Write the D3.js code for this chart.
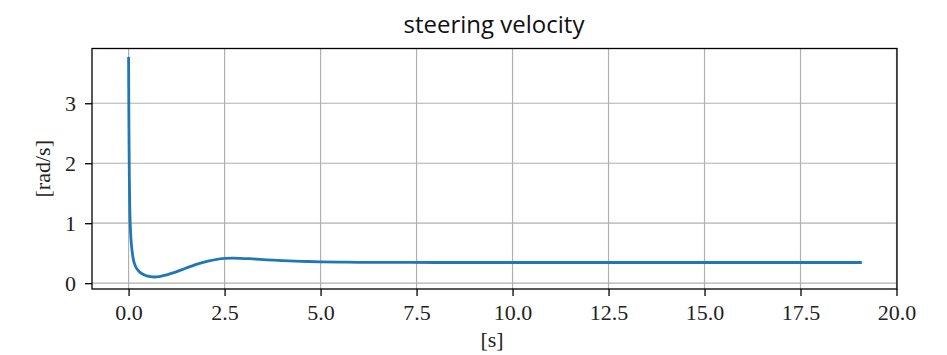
<!DOCTYPE html>
<html>
<head>
<meta charset="utf-8">
<script src="https://cdn.jsdelivr.net/npm/d3@7"></script>
<style>
  html, body { margin: 0; padding: 0; background: #fff; }
  svg { display: block; }
</style>
</head>
<body>
<svg id="chart" width="947" height="355"></svg>
<script>
// Steering velocity response over time
const time = [0, 0.005, 0.01, 0.02, 0.03, 0.04, 0.06, 0.08, 0.1, 0.12, 0.15, 0.2, 0.29, 0.4, 0.5, 0.63, 0.8, 1.0, 1.2, 1.41, 1.6, 1.85, 2.1, 2.3, 2.5, 2.7, 2.9, 3.15, 3.6, 4.0, 4.5, 5.0, 5.5, 6.0, 7.0, 8.0, 10.0, 12.0, 14.0, 16.0, 18.0, 19.06];
const velocity = [3.75, 3.05, 2.5, 1.75, 1.3, 1.03, 0.76, 0.6, 0.49, 0.41, 0.33, 0.255, 0.185, 0.14, 0.118, 0.104, 0.11, 0.14, 0.18, 0.23, 0.275, 0.33, 0.372, 0.398, 0.412, 0.417, 0.415, 0.408, 0.39, 0.377, 0.365, 0.356, 0.351, 0.348, 0.346, 0.345, 0.345, 0.345, 0.345, 0.345, 0.345, 0.345];
const xTicks = [0, 2.5, 5, 7.5, 10, 12.5, 15, 17.5, 20];
const yTicks = [0, 1, 2, 3];

const svg = d3.select("#chart");
const plotLeft = 92, plotRight = 897, plotTop = 48.5, plotBottom = 289;

const x = d3.scaleLinear().domain([-0.953, 20.013]).range([plotLeft, plotRight]);
const y = d3.scaleLinear().domain([-0.097, 3.913]).range([plotBottom, plotTop]);

const serif = "'Liberation Serif', 'DejaVu Serif', serif";

// grid
const grid = svg.append("g").attr("stroke", "#b0b0b0").attr("stroke-width", 1.2);
grid.selectAll("line.gx").data(xTicks).join("line")
  .attr("x1", d => x(d)).attr("x2", d => x(d)).attr("y1", plotTop).attr("y2", plotBottom);
grid.selectAll("line.gy").data(yTicks).join("line")
  .attr("x1", plotLeft).attr("x2", plotRight).attr("y1", d => y(d)).attr("y2", d => y(d));

// data line
const line = d3.line().x((d, i) => x(time[i])).y(d => y(d)).curve(d3.curveCatmullRom.alpha(0.5));
svg.append("path")
  .datum(velocity)
  .attr("fill", "none")
  .attr("stroke", "#1f77b4")
  .attr("stroke-width", 2.8)
  .attr("stroke-linecap", "square")
  .attr("stroke-linejoin", "round")
  .attr("d", line);

// frame
svg.append("rect")
  .attr("x", plotLeft).attr("y", plotTop)
  .attr("width", plotRight - plotLeft).attr("height", plotBottom - plotTop)
  .attr("fill", "none").attr("stroke", "#000").attr("stroke-width", 1.3);

// axes
const xAxis = d3.axisBottom(x).tickValues(xTicks).tickFormat(d3.format(".1f")).tickSizeInner(7).tickSizeOuter(0).tickPadding(8.5);
const gx = svg.append("g").attr("transform", `translate(0,${plotBottom})`).call(xAxis);
const yAxis = d3.axisLeft(y).tickValues(yTicks).tickFormat(d3.format("d")).tickSizeInner(7).tickSizeOuter(0).tickPadding(9);
const gy = svg.append("g").attr("transform", `translate(${plotLeft},0)`).call(yAxis);

[gx, gy].forEach(g => {
  g.select(".domain").remove();
  g.selectAll(".tick line").attr("stroke", "#000").attr("stroke-width", 1.3);
  g.selectAll(".tick text").attr("fill", "#222").style("font-family", serif).style("font-size", "22px");
});

// labels
svg.append("text")
  .attr("x", 494).attr("y", 33)
  .attr("text-anchor", "middle")
  .style("font-family", "'Open Sans', 'DejaVu Sans', sans-serif")
  .style("font-size", "24px")
  .attr("fill", "#111")
  .text("steering velocity");

svg.append("text")
  .attr("x", 492).attr("y", 347)
  .attr("text-anchor", "middle")
  .style("font-family", serif).style("font-size", "22px")
  .attr("fill", "#222")
  .text("[s]");

svg.append("text")
  .attr("transform", `translate(50,${(plotTop + plotBottom) / 2}) rotate(-90)`)
  .attr("text-anchor", "middle")
  .style("font-family", serif).style("font-size", "22px")
  .attr("fill", "#222")
  .text("[rad/s]");
</script>
</body>
</html>
